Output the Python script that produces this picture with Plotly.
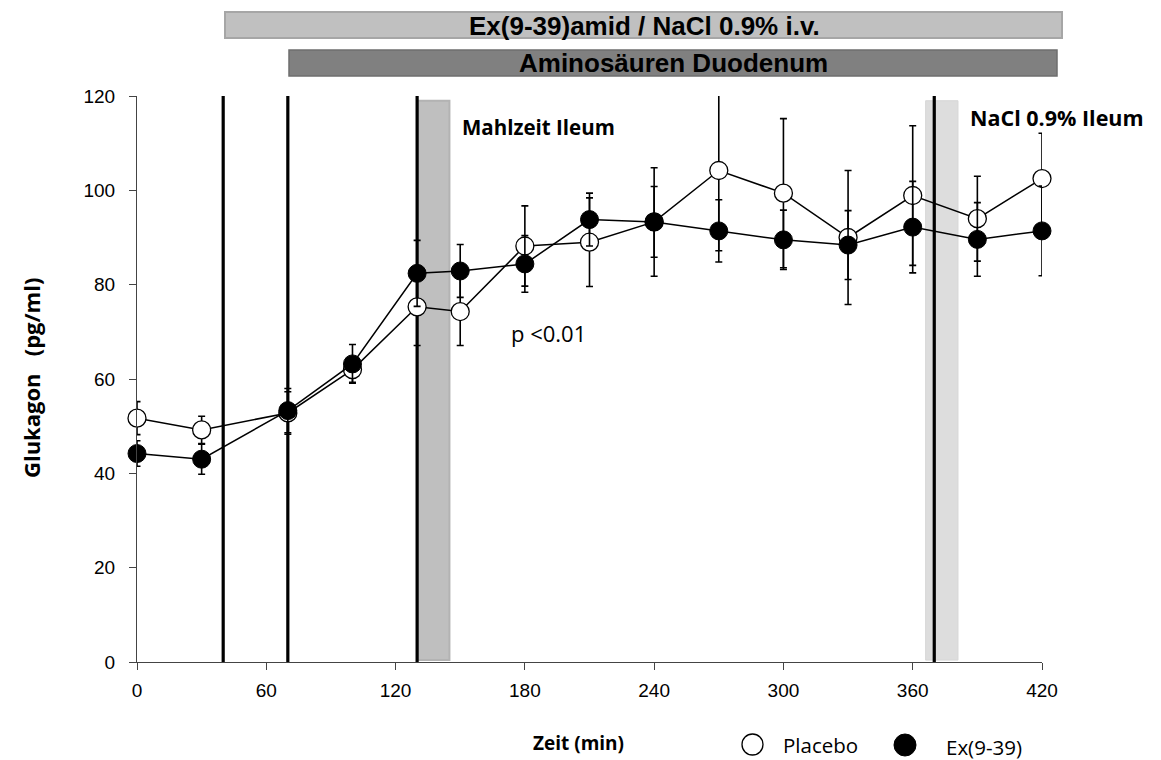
import plotly.graph_objects as go

# ---------------- data ----------------
time_min = [0, 30, 70, 100, 130, 150, 180, 210, 240, 270, 300, 330, 360, 390, 420]
placebo = [51.7, 49.2, 52.8, 62.0, 75.3, 74.3, 88.2, 89.0, 93.3, 104.2, 99.4, 90.0, 98.9, 94.0, 102.5]
placebo_err = [3.5, 2.9, 4.5, 2.7, 8.2, 7.2, 8.5, 9.4, 11.5, 17.0, 15.8, 14.2, 14.8, 9.0, 9.6]
ex939 = [44.2, 43.0, 53.3, 63.2, 82.4, 82.9, 84.4, 93.8, 93.3, 91.4, 89.5, 88.4, 92.2, 89.6, 91.4]
ex939_err = [2.7, 3.2, 4.7, 4.1, 7.0, 5.6, 6.0, 5.6, 7.5, 6.6, 6.3, 7.3, 9.7, 7.8, 9.5]

x_ticks = [0, 60, 120, 180, 240, 300, 360, 420]
y_ticks = [0, 20, 40, 60, 80, 100, 120]
event_lines = [40, 70, 130, 370]
meal_band = [130, 145]
nacl_band = [366, 381]
band_top = 119

series_names = ["Placebo", "Ex(9-39)"]

# ---------------- geometry (page pixels; body has 8px margin) ----------------
OFF = 8
PX0, PX1, PY0, PY1 = 137, 1042, 96, 662
W, H = 1161 - OFF, 760 - OFF
L, T = PX0 - OFF, PY0 - OFF
R, B = W - (PX1 - OFF), H - (PY1 - OFF)


def px2x(px):
    return (px - PX0) / (PX1 - PX0)


def py2y(py):
    return (PY1 - py) / (PY1 - PY0)


fig = go.Figure()

fig.add_trace(go.Scatter(
    x=time_min, y=placebo, mode="lines+markers", name=series_names[0],
    showlegend=False, cliponaxis=False,
    line=dict(color="black", width=1.5),
    marker=dict(symbol="circle", size=18, color="white", line=dict(color="black", width=1.3)),
    error_y=dict(type="data", array=placebo_err, visible=True, color="black", thickness=1.6, width=3.5),
))
fig.add_trace(go.Scatter(
    x=time_min, y=ex939, mode="lines+markers", name=series_names[1],
    showlegend=False, cliponaxis=False,
    line=dict(color="black", width=1.5),
    marker=dict(symbol="circle", size=18, color="black", line=dict(color="black", width=1)),
    error_y=dict(type="data", array=ex939_err, visible=True, color="black", thickness=1.6, width=3.5),
))

shapes = []
shapes.append(dict(type="rect", xref="x", yref="y", x0=meal_band[0], x1=meal_band[1], y0=0.4, y1=band_top,
                   fillcolor="#BFBFBF", line=dict(color="#B3B3B3", width=2), layer="below"))
shapes.append(dict(type="rect", xref="x", yref="y", x0=nacl_band[0], x1=nacl_band[1], y0=0.4, y1=band_top,
                   fillcolor="#DDDDDD", line=dict(color="#D6D6D6", width=1), layer="below"))
for xv in event_lines:
    shapes.append(dict(type="line", xref="x", yref="y", x0=xv, x1=xv, y0=0, y1=120,
                       line=dict(color="black", width=3.2), layer="below"))

# top bars
shapes.append(dict(type="rect", xref="paper", yref="paper",
                   x0=px2x(225), x1=px2x(1062), y0=py2y(38), y1=py2y(12),
                   fillcolor="#C0C0C0", line=dict(color="#A6A6A6", width=2)))
shapes.append(dict(type="rect", xref="paper", yref="paper",
                   x0=px2x(289), x1=px2x(1057), y0=py2y(76), y1=py2y(50),
                   fillcolor="#808080", line=dict(color="#6E6E6E", width=1.5)))

# legend symbols
shapes.append(dict(type="circle", xref="paper", yref="paper",
                   x0=px2x(742), x1=px2x(763), y0=py2y(755), y1=py2y(734),
                   fillcolor="white", line=dict(color="black", width=1.3)))
shapes.append(dict(type="circle", xref="paper", yref="paper",
                   x0=px2x(894), x1=px2x(916), y0=py2y(756), y1=py2y(734),
                   fillcolor="black", line=dict(color="black", width=1)))

BAR_FONT = "Liberation Sans, Arial, sans-serif"
TXT_FONT = "Open Sans, sans-serif"


def ann(px, py, text, size, family=TXT_FONT, xanchor="left", **kw):
    return dict(xref="paper", yref="paper", x=px2x(px), y=py2y(py), text=text,
                xanchor=xanchor, yanchor="middle", showarrow=False,
                font=dict(family=family, size=size, color="black"), **kw)


annotations = [
    ann(644, 26, "<b>Ex(9-39)amid / NaCl 0.9% i.v.</b>", 26, BAR_FONT, "center"),
    ann(673, 63, "<b>Aminosäuren Duodenum</b>", 26, BAR_FONT, "center"),
    ann(460, 127, "<b>Mahlzeit Ileum</b>", 20.5),
    ann(968, 117, "<b>NaCl 0.9% Ileum</b>", 21.5),
    ann(509, 333, "p <0.01", 22),
    ann(578, 743, "<b>Zeit (min)</b>", 19, xanchor="center"),
    ann(31, 378, "<b>Glukagon&nbsp;&nbsp;&nbsp;(pg/ml)</b>", 22, xanchor="center", textangle=-90),
    ann(781, 745, series_names[0], 20.5),
    ann(944, 747, series_names[1], 20.5),
]

axis_common = dict(showgrid=False, zeroline=False, showline=True, linecolor="#444444", linewidth=1,
                   ticks="outside", ticklen=7, tickcolor="#444444", tickwidth=1,
                   tickfont=dict(family="Liberation Sans", size=19, color="black"))

fig.update_layout(
    width=W, height=H,
    margin=dict(l=L, r=R, t=T, b=B),
    paper_bgcolor="white", plot_bgcolor="white",
    showlegend=False,
    shapes=shapes, annotations=annotations,
    xaxis=dict(range=[0, 420], tickvals=x_ticks, ticktext=[str(v) for v in x_ticks],
               ticklabelstandoff=4, **axis_common),
    yaxis=dict(range=[0, 120], tickvals=y_ticks, ticktext=[str(v) for v in y_ticks],
               ticklabelstandoff=10, **axis_common),
)

fig.write_html("out.html")
